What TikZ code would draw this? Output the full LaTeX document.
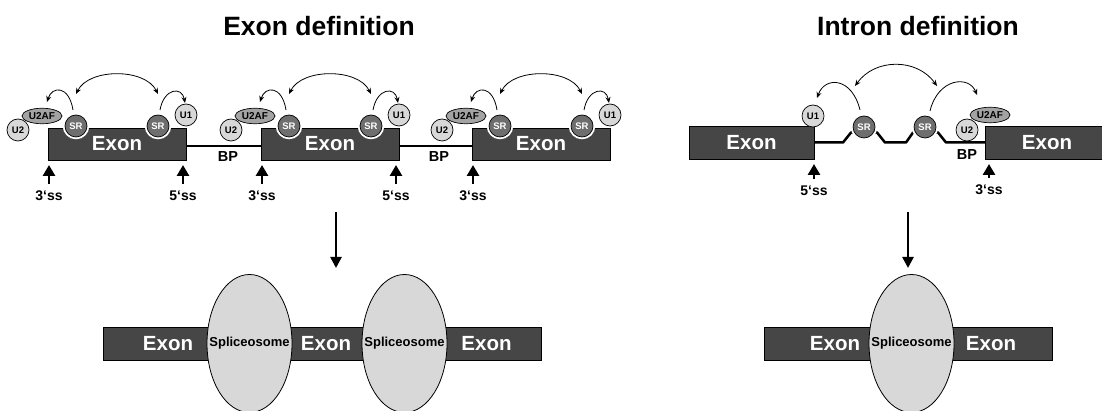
\documentclass[tikz,border=0pt]{standalone}
\usepackage{fontspec}
\setmainfont{Liberation Sans}
\usetikzlibrary{arrows.meta,shapes.geometric}

\definecolor{exongray}{HTML}{464646}
\definecolor{srgray}{HTML}{6E6E6E}
\definecolor{snlight}{HTML}{D8D8D8}
\definecolor{u2afgray}{HTML}{A3A3A3}

\newcommand\fsz[1]{\fontsize{#1}{#1}\selectfont\bfseries}

\tikzset{
  titletext/.style={font=\fsz{26.5}, inner sep=0pt},
  exonbox/.style={draw=black, line width=0.6pt, fill=exongray, inner sep=0pt,
    outer sep=0pt, text=white, font=\fsz{20.5}},
  exontext/.style={text=white, font=\fsz{20.5}, inner sep=0pt},
  srball/.style={circle, draw=black, line width=0.7pt, fill=srgray, text=white,
    minimum size=22pt, inner sep=0pt, font=\fsz{9.5},
    preaction={draw=white, line width=4.5pt}},
  sncirc/.style={circle, draw=black, line width=0.7pt, fill=snlight,
    minimum size=22pt, inner sep=0pt, font=\fsz{9.5}},
  u2afnode/.style={ellipse, draw=black, line width=0.7pt, fill=u2afgray,
    minimum width=40pt, minimum height=15.5pt, inner sep=0pt, font=\fsz{10}},
  curvearr/.style={line width=0.8pt, -{Stealth[length=6pt,width=5pt]}},
  dblarr/.style={line width=0.8pt, {Stealth[length=6pt,width=5pt]}-{Stealth[length=6pt,width=5pt]}},
  sslabel/.style={font=\fsz{14}, inner sep=1pt},
  ssarrow/.style={line width=2.8pt, -{Triangle[width=12pt,length=11pt]},
    shorten <=6pt, shorten >=5pt},
  downarrow/.style={line width=2.5pt, -{Triangle[width=11pt,length=11pt]}},
  intronline/.style={line width=2.5pt, line join=round},
  bplabel/.style={font=\fsz{14.5}, inner sep=0pt},
  bar/.style={draw=black, line width=0.6pt, fill=exongray, inner sep=0pt, outer sep=0pt},
  spliceo/.style={ellipse, draw=black, line width=0.8pt, fill=snlight,
    minimum width=85pt, minimum height=138pt, inner sep=0pt},
  sptext/.style={font=\fsz{13}, inner sep=0pt}
}

% exon box of the exon-definition row: #1 left edge, #2 suffix
\newcommand\edbox[2]{%
  \node[exonbox, minimum width=138pt, minimum height=32pt, anchor=north west]
    (ex#2) at (#1,128) {Exon};}

% factors bound around one exon: #1 left edge, #2 suffix
\newcommand\edparts[2]{%
  \node[srball] (sra#2) at (#1+28,126) {SR};
  \node[srball] (srb#2) at (#1+110,126) {SR};
  \node[sncirc] (uone#2) at (#1+138,115) {U1};
  \node[sncirc] (utwo#2) at (#1-30,130) {U2};
  \node[u2afnode] (uaf#2) at (#1-6,116) {U2AF};
  \draw[dblarr] ([shift={(0,-32)}]sra#2.center) .. controls +(13,-26) and +(-13,-26)
    .. ([shift={(0,-32)}]srb#2.center);
  \draw[curvearr] ([shift={(-3,-16)}]sra#2.center) .. controls +(-4,-25) and +(5,-16)
    .. ([shift={(5,-14)}]uaf#2.center);
  \draw[curvearr] ([shift={(2,-16)}]srb#2.center) .. controls +(4,-22) and +(-3,-17)
    .. ([shift={(-1,-12)}]uone#2.center);
  \node[sslabel] (tss#2) at (#1+1,196) {3‘ss};
  \draw[ssarrow] (tss#2.north) -- (tss#2.north |- ex#2.south);
}

\begin{document}
\begin{tikzpicture}[x=1pt,y=-1pt]
\useasboundingbox (0,0) rectangle (1102,411);

% headings
\node[titletext] (thead1) at (319,26) {Exon definition};
\node[titletext] (thead2) at (918,26) {Intron definition};

% ---------- exon definition ----------
\edbox{48}{1}
\edbox{261}{2}
\edbox{472}{3}
\draw[intronline] ([yshift=-2pt]ex1.east) -- ([yshift=-2pt]ex2.west);
\draw[intronline] ([yshift=-2pt]ex2.east) -- ([yshift=-2pt]ex3.west);
\node[bplabel] (bp1) at (228,157) {BP};
\node[bplabel] (bp2) at (439,157) {BP};
\edparts{48}{1}
\edparts{261}{2}
\edparts{472}{3}
\node[sslabel] (fss1) at (183,196) {5‘ss};
\draw[ssarrow] (fss1.north) -- (fss1.north |- ex1.south);
\node[sslabel] (fss2) at (396,196) {5‘ss};
\draw[ssarrow] (fss2.north) -- (fss2.north |- ex2.south);

\coordinate (edtop) at (336,212);
\coordinate (edbot) at (336,268);
\draw[downarrow] (edtop) -- (edbot);

% spliced product
\node[bar, minimum width=438pt, minimum height=33pt, anchor=north west] (edbar) at (103,327) {};
\node[spliceo] (sp1) at (249.5,343.5) {};
\node[spliceo] (sp2) at (404.5,343.5) {};
\node[exontext] (pe1) at (168,343.5) {Exon};
\node[exontext] (pe2) at (326,343.5) {Exon};
\node[exontext] (pe3) at (486.5,343.5) {Exon};
\node[sptext] (spt1) at (sp1) {Spliceosome};
\node[sptext] (spt2) at (sp2) {Spliceosome};

% ---------- intron definition ----------
\node[exonbox, minimum width=125pt, minimum height=33pt, anchor=north west] (il) at (689,126) {Exon};
\node[bar, minimum width=120pt, minimum height=33pt, anchor=north west] (ir) at (985,126) {};
\node[exontext] (irt) at (1047,143) {Exon};
\draw[intronline] (il.east) -- ++(29,0) -- ++(8,-10) -- ++(26,0) -- ++(8,10)
  -- ++(21,0) -- ++(7,-10) -- ++(25,0) -- ++(8,10) -- (ir.west);
\node[srball] (isr1) at (864,127) {SR};
\node[srball] (isr2) at (925,127) {SR};
\node[sncirc] (iu1) at (813,116) {U1};
\node[u2afnode] (iuaf) at (990,115) {U2AF};
\node[sncirc] (iu2) at (967,130) {U2};
\node[bplabel] (ibp) at (967,155) {BP};
\draw[dblarr] ([shift={(-9,-41)}]isr1.center) .. controls +(20,-28) and +(-20,-28)
  .. ([shift={(12,-41)}]isr2.center);
\draw[curvearr] ([shift={(-4,-17)}]isr1.center) .. controls +(-8,-33) and +(8,-22)
  .. ([shift={(4,-18)}]iu1.center);
\draw[curvearr] ([shift={(5,-16)}]isr2.center) .. controls +(8,-33) and +(-8,-20)
  .. ([shift={(-13,-20)}]iuaf.center);
\node[sslabel] (ifss) at (814,191) {5‘ss};
\draw[ssarrow] (ifss.north) -- (ifss.north |- il.south);
\node[sslabel] (itss) at (989,190) {3‘ss};
\draw[ssarrow] (itss.north) -- (itss.north |- ir.south);

\coordinate (idtop) at (908,212);
\coordinate (idbot) at (908,268);
\draw[downarrow] (idtop) -- (idbot);

% spliced product
\node[bar, minimum width=288pt, minimum height=33pt, anchor=north west] (idbar) at (764,327) {};
\node[spliceo] (isp) at (911.5,343.5) {};
\node[exontext] (ipe1) at (835,343.5) {Exon};
\node[exontext] (ipe2) at (991,343.5) {Exon};
\node[sptext] (ispt) at (isp) {Spliceosome};
\end{tikzpicture}
\end{document}
